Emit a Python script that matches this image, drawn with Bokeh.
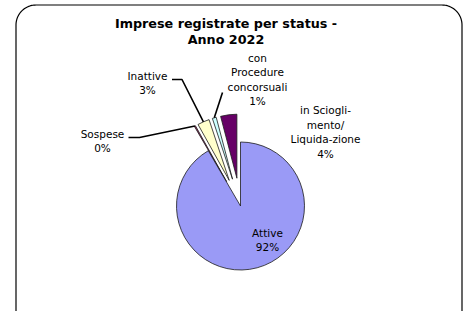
import math
from bokeh.plotting import figure
from bokeh.models import Range1d, ColumnDataSource
from bokeh.core.properties import value
from bokeh.embed import file_html
from bokeh.resources import INLINE

# ---- data ----
categories = ["in Sciogli-\nmento/\nLiquida-zione", "con\nProcedure\nconcorsuali", "Inattive", "Sospese", "Attive"]
shares = [4.1, 1.0, 3.0, 0.3, 91.6]
colors = ["#660066", "#CCFFFF", "#FFFFCC", "#993366", "#9A9AF6"]
exploded = [True, True, True, True, False]
title_lines = ["Imprese registrate per status -", "Anno 2022"]

# ---- layout (reference pixel coords, y measured downward) ----
W, H = 463, 311
def Y(y):
    return H - y

cx, cy, R, EXPLODE = 240.0, 205.5, 64.0, 28.0
label_pos = [(325, 109.5), (257, 57), (147, 75), (102, 133), (267, 232)]
leader_pts = [None, [(222, 92)], [(171.5, 79), (181.5, 79)], [(128, 137), (139, 137)], None]
LH = 14.5

p = figure(width=W, height=H, output_backend="svg", toolbar_location=None,
           x_range=Range1d(0, W), y_range=Range1d(0, H),
           min_border=0, outline_line_color=None)
p.axis.visible = False
p.grid.visible = False
p.background_fill_color = "white"
p.border_fill_color = "white"

# rounded chart-area border (decoration)
bl, br, bt, bb, rad = 15.5, 461.5, 4.5, 330, 20
bx, by = [bl], [Y(bb)]
for k in range(0, 31):
    a = math.pi - k * (math.pi / 2) / 30
    bx.append(bl + rad + rad * math.cos(a)); by.append(Y(bt + rad - rad * math.sin(a)))
for k in range(0, 31):
    a = math.pi / 2 - k * (math.pi / 2) / 30
    bx.append(br - rad + rad * math.cos(a)); by.append(Y(bt + rad - rad * math.sin(a)))
bx.append(br); by.append(Y(bb))
p.line(bx, by, line_color="black", line_width=1.2)

total = sum(shares)
start = math.pi / 2
xs, ys, sa, ea, mids = [], [], [], [], []
for s, ex in zip(shares, exploded):
    a0 = start
    a1 = start + s / total * 2 * math.pi
    mid = (a0 + a1) / 2
    d = EXPLODE if ex else 0.0
    xs.append(cx + d * math.cos(mid))
    ys.append(Y(cy) + d * math.sin(mid))
    sa.append(a0)
    ea.append(a1)
    mids.append(mid)
    start = a1

src = ColumnDataSource(dict(x=xs, y=ys, start=sa, end=ea, color=colors))
p.wedge(x="x", y="y", radius=R, start_angle="start", end_angle="end",
        fill_color="color", line_color="#1a1a1a", line_width=0.8, source=src)

# leader lines
for i, pts in enumerate(leader_pts):
    if not pts:
        continue
    ex = xs[i] + R * math.cos(mids[i])
    ey = ys[i] + R * math.sin(mids[i])
    lx = [q[0] for q in pts] + [ex]
    ly = [Y(q[1]) for q in pts] + [ey]
    p.line(lx, ly, line_color="black", line_width=1.6)

# labels
tx, ty, tt = [], [], []
for name, s, (lx, ly) in zip(categories, shares, label_pos):
    lines = name.split("\n") + [f"{round(s / total * 100)}%"]
    for k, ln in enumerate(lines):
        tx.append(lx)
        ty.append(Y(ly + k * LH))
        tt.append(ln)
p.text(x=tx, y=ty, text=tt, text_align="center", text_baseline="middle",
       text_font=value("DejaVu Sans"), text_font_size="10.5px", text_color="black")

# title
p.text(x=[225.5, 225.5], y=[Y(22.5), Y(39)], text=title_lines, text_align="center",
       text_baseline="middle", text_font=value("DejaVu Sans"), text_font_style="bold",
       text_font_size="12.75px", text_color="black")

open("out.html", "w").write(file_html(p, INLINE))
